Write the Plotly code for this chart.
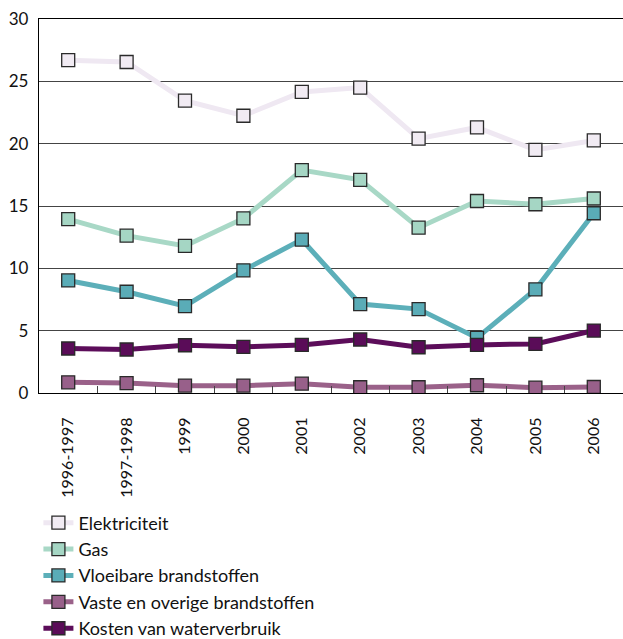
import plotly.graph_objects as go

categories = ["1996-1997", "1997-1998", "1999", "2000", "2001", "2002", "2003", "2004", "2005", "2006"]
elektriciteit = [26.7, 26.55, 23.45, 22.24, 24.15, 24.5, 20.4, 21.3, 19.5, 20.26]
gas = [13.94, 12.62, 11.8, 14.0, 17.88, 17.1, 13.26, 15.4, 15.14, 15.6]
vloeibaar = [9.03, 8.12, 6.97, 9.84, 12.3, 7.13, 6.73, 4.42, 8.31, 14.42]
vaste = [0.86, 0.8, 0.59, 0.59, 0.75, 0.46, 0.46, 0.62, 0.43, 0.48]
water = [3.57, 3.49, 3.83, 3.7, 3.86, 4.29, 3.67, 3.86, 3.94, 5.01]

series = [
    ("Elektriciteit", elektriciteit, "#efe8f2", "#f1ebf3"),
    ("Gas", gas, "#a8d8c6", "#a5d6c4"),
    ("Vloeibare brandstoffen", vloeibaar, "#5cafb9", "#5aacb7"),
    ("Vaste en overige brandstoffen", vaste, "#9a6189", "#98608a"),
    ("Kosten van waterverbruik", water, "#5c0d5a", "#5a0c58"),
]

fig = go.Figure()
for name, vals, lc, mc in series:
    fig.add_trace(go.Scatter(
        x=categories, y=vals, name=name, mode="lines+markers",
        line=dict(color=lc, width=5),
        marker=dict(symbol="square", size=13, color=mc, line=dict(color="#2a2a2a", width=1.3)),
    ))

fig.update_layout(
    width=623, height=639,
    margin=dict(l=39, r=0, t=19, b=246, autoexpand=False),
    paper_bgcolor="white", plot_bgcolor="white",
    font=dict(family="Lato", size=16, color="#111"),
    showlegend=True,
    legend=dict(
        x=-0.001, y=-0.298, xanchor="left", yanchor="top",
        font=dict(size=18), bgcolor="rgba(0,0,0,0)", traceorder="normal",
        tracegroupgap=0,
    ),
    xaxis=dict(
        type="category", range=[-0.5, 9.5], tickangle=-90, tickson="boundaries",
        ticks="inside", ticklen=7, tickcolor="#444", showgrid=False,
        showline=True, linecolor="black", linewidth=1.3, mirror=True,
        tickfont=dict(size=16), ticklabelstandoff=17,
    ),
    yaxis=dict(
        range=[0, 30], dtick=5, showgrid=True, gridcolor="#444", gridwidth=1,
        showline=True, linecolor="black", linewidth=1.3, zeroline=False,
        tickfont=dict(size=17), ticks="", ticklabelstandoff=6,
    ),
)

fig.write_html("out.html", config={"displayModeBar": False},
               post_script="document.body.style.margin='0px';")
